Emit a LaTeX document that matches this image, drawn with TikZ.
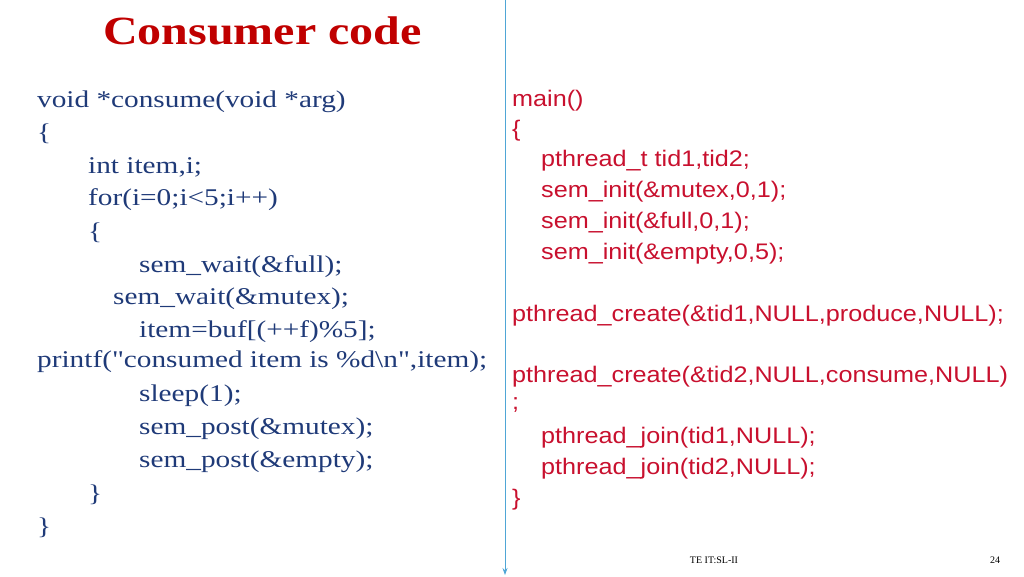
\documentclass[tikz,border=0pt]{standalone}
\usepackage{fontspec}
\usetikzlibrary{arrows.meta}
\setmainfont{Liberation Serif}
\newfontfamily\lserif[FakeStretch=1.22]{Liberation Serif}
\newfontfamily\tserif[FakeStretch=1.2]{Liberation Serif}
\newfontfamily\rsans[FakeStretch=1.12]{Liberation Sans}
\begin{document}
\begin{tikzpicture}[x=1pt,y=-1pt,
 lt/.style={anchor=west,inner sep=0pt,text=leftblue,font=\lserif\fontsize{24}{24}\selectfont},
 rt/.style={anchor=west,inner sep=0pt,text=rightred,font=\rsans\fontsize{22.5}{22.5}\selectfont}]
\definecolor{leftblue}{HTML}{1F3A78}
\definecolor{rightred}{HTML}{C8102E}
\definecolor{titlered}{HTML}{C00000}
\definecolor{linecol}{HTML}{4FA6D6}
\useasboundingbox (0,0) rectangle (1024,576);
\node[anchor=west,inner sep=0pt,text=titlered,font=\tserif\bfseries\fontsize{40}{40}\selectfont] (title) at (103,31) {Consumer code};
\coordinate (top) at (505,0);
\coordinate (bot) at (505,575);
\draw[linecol,line width=0.8pt,-{Stealth[length=7pt,width=5pt]}] (top) -- (bot);
\node[lt] (l1) at (37,102) {void *consume(void *arg)};
\node[lt] (l2) at (37,134) {\{};
\node[lt] (l3) at (88,167) {int item,i;};
\node[lt] (l4) at (88,200) {for(i=0;i<5;i++)};
\node[lt] (l5) at (88,233) {\{};
\node[lt] (l6) at (139,267) {sem\_wait(\&full);};
\node[lt] (l7) at (113,299) {sem\_wait(\&mutex);};
\node[lt] (l8) at (139,332) {item=buf[(++f)\%5];};
\node[lt] (l9) at (37,362) {printf(\char"22 consumed item is \%d\textbackslash n\char"22,item);};
\node[lt] (l10) at (139,396) {sleep(1);};
\node[lt] (l11) at (139,429) {sem\_post(\&mutex);};
\node[lt] (l12) at (139,462) {sem\_post(\&empty);};
\node[lt] (l13) at (88,495) {\}};
\node[lt] (l14) at (37,528) {\}};
\node[rt] (r1) at (512,101) {main()};
\node[rt] (r2) at (512,131) {\{};
\node[rt] (r3) at (541,161) {pthread\_t tid1,tid2;};
\node[rt] (r4) at (541,192) {sem\_init(\&mutex,0,1);};
\node[rt] (r5) at (541,223) {sem\_init(\&full,0,1);};
\node[rt] (r6) at (541,254) {sem\_init(\&empty,0,5);};
\node[rt] (r7) at (512,316) {pthread\_create(\&tid1,NULL,produce,NULL);};
\node[rt] (r8) at (512,377) {pthread\_create(\&tid2,NULL,consume,NULL)};
\node[rt] (r9) at (512,405) {;};
\node[rt] (r10) at (541,438) {pthread\_join(tid1,NULL);};
\node[rt] (r11) at (541,469) {pthread\_join(tid2,NULL);};
\node[rt] (r12) at (512,500) {\}};
\node[inner sep=0pt,font=\fontsize{10}{10}\selectfont] (foot) at (714,560) {TE IT:SL-II};
\node[inner sep=0pt,font=\fontsize{10}{10}\selectfont] (pg) at (995,560) {24};
\end{tikzpicture}
\end{document}
